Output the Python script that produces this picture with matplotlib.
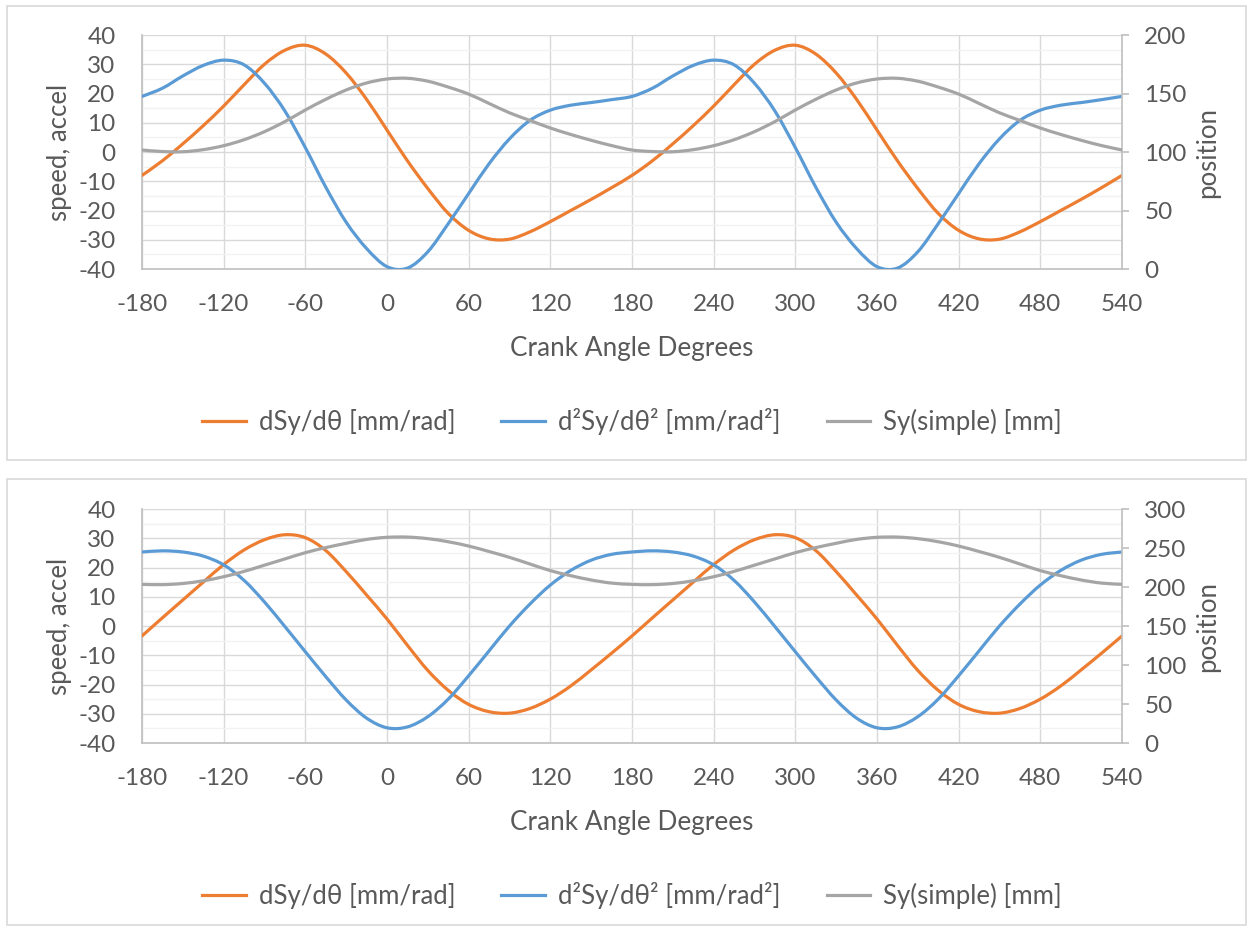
import matplotlib
matplotlib.use("Agg")
import numpy as np
import matplotlib.pyplot as plt
from matplotlib.patches import Rectangle, PathPatch
from matplotlib.path import Path
from matplotlib.lines import Line2D
from matplotlib.ticker import MultipleLocator

plt.rcParams['font.family'] = ['Lato', 'DejaVu Sans']
plt.rcParams['axes.unicode_minus'] = False

W, H = 1249, 930

angle = [-180, -165, -150, -135, -120, -105, -90, -75, -60, -45, -30, -15,
         0, 15, 30, 45, 60, 75, 90, 105, 120, 135, 150, 165,
         180, 195, 210, 225, 240, 255, 270, 285, 300, 315, 330, 345,
         360, 375, 390, 405, 420, 435, 450, 465, 480, 495, 510, 525, 540]

# top chart
speed_1 = [-8, -3, 2.8, 9, 15.7, 23, 30, 34.8, 36.5, 33.5, 27, 18,
           7.5, -3, -12.5, -21, -26.8, -29.7, -29.8, -27.3, -23.8, -20, -16.2, -12.2,
           -8, -3, 2.8, 9, 15.7, 23, 30, 34.8, 36.5, 33.5, 27, 18,
           7.5, -3, -12.5, -21, -26.8, -29.7, -29.8, -27.3, -23.8, -20, -16.2, -12.2, -8]
accel_1 = [19, 21.8, 26, 29.6, 31.4, 29.8, 23.5, 14, 1.5, -12, -24, -33,
           -39.2, -39.7, -34.1, -24.5, -14.2, -4, 4.5, 10.8, 14.3, 16, 16.9, 17.9,
           19, 21.8, 26, 29.6, 31.4, 29.8, 23.5, 14, 1.5, -12, -24, -33,
           -39.2, -39.7, -34.1, -24.5, -14.2, -4, 4.5, 10.8, 14.3, 16, 16.9, 17.9, 19]
pos_1 = [101.7, 100.4, 100.2, 102, 105.4, 110.5, 117.4, 126, 135.9, 145, 153, 159,
         162.4, 163, 160.5, 155.5, 149.5, 141.5, 133.5, 127, 120.5, 115, 110, 105.5,
         101.7, 100.4, 100.2, 102, 105.4, 110.5, 117.4, 126, 135.9, 145, 153, 159,
         162.4, 163, 160.5, 155.5, 149.5, 141.5, 133.5, 127, 120.5, 115, 110, 105.5, 101.7]

# bottom chart
speed_2 = [-3.4, 2.8, 8.9, 15, 21, 26, 29.5, 31.2, 30.2, 25.8, 18.6, 10.6,
           2.4, -6.6, -15.2, -22, -26.8, -29.3, -29.8, -28.2, -25, -20.5, -15, -9.3,
           -3.4, 2.8, 8.9, 15, 21, 26, 29.5, 31.2, 30.2, 25.8, 18.6, 10.6,
           2.4, -6.6, -15.2, -22, -26.8, -29.3, -29.8, -28.2, -25, -20.5, -15, -9.3, -3.4]
accel_2 = [25.3, 25.7, 25.3, 23.9, 20.9, 15.6, 8.2, -0.2, -8.8, -17.3, -25.3, -31.5,
           -34.8, -34.5, -31, -25, -17, -8.5, 0, 7.5, 14, 19, 22.5, 24.5,
           25.3, 25.7, 25.3, 23.9, 20.9, 15.6, 8.2, -0.2, -8.8, -17.3, -25.3, -31.5,
           -34.8, -34.5, -31, -25, -17, -8.5, 0, 7.5, 14, 19, 22.5, 24.5, 25.3]
pos_2 = [203.4, 203, 204.5, 208, 213.2, 220, 228, 236, 244, 250.5, 256, 261,
         263.7, 264, 262, 258, 252.5, 245.5, 238, 229.5, 221, 214.5, 209, 205,
         203.4, 203, 204.5, 208, 213.2, 220, 228, 236, 244, 250.5, 256, 261,
         263.7, 264, 262, 258, 252.5, 245.5, 238, 229.5, 221, 214.5, 209, 205, 203.4]

labels = ['dSy/dθ [mm/rad]', 'd²Sy/dθ² [mm/rad²]', 'Sy(simple) [mm]']
ORANGE, BLUE, GREY = '#ED7D31', '#5B9BD5', '#A5A5A5'
TXT = '#595959'
LW = 2.3


def fx(px):
    return px / W


def fy(py):
    return 1 - py / H


def smooth_line(ax, xs, ys, color):
    # Excel style "smoothed line": Catmull-Rom segments as cubic Bezier
    p = np.column_stack([xs, ys]).astype(float)
    p = np.vstack([p[0], p, p[-1]])
    verts = [p[1]]
    codes = [Path.MOVETO]
    for i in range(1, len(p) - 2):
        c1 = p[i] + (p[i + 1] - p[i - 1]) / 6
        c2 = p[i + 1] - (p[i + 2] - p[i]) / 6
        verts += [c1, c2, p[i + 1]]
        codes += [Path.CURVE4] * 3
    ax.add_patch(PathPatch(Path(verts, codes), fill=False, edgecolor=color, lw=LW,
                           capstyle='round', joinstyle='round', zorder=3))


fig = plt.figure(figsize=(W / 100, H / 100), dpi=100)


def panel(top, bottom, box, speed, accel, pos, pos_max):
    # outer chart border
    fig.patches.append(Rectangle((fx(box[0]), fy(box[3])), fx(box[2] - box[0]), (box[3] - box[1]) / H,
                                 transform=fig.transFigure, fill=False, edgecolor='#D9D9D9', lw=1.2))
    ax = fig.add_axes([fx(142), fy(bottom), fx(1122 - 142), (bottom - top) / H])
    ax2 = ax.twinx()
    ax.set_xlim(-180, 540)
    ax.set_ylim(-40, 40)
    ax2.set_ylim(0, pos_max)
    ax.set_xticks(range(-180, 541, 60))
    ax.yaxis.set_major_locator(MultipleLocator(10))
    ax.yaxis.set_minor_locator(MultipleLocator(5))
    ax2.yaxis.set_major_locator(MultipleLocator(50))
    ax.grid(True, which='major', color='#D9D9D9', lw=1.0)
    ax.grid(True, which='minor', axis='y', color='#F2F2F2', lw=1.0)
    ax.set_axisbelow(True)
    for a in (ax, ax2):
        for s in a.spines.values():
            s.set_visible(False)
    ax.spines['left'].set_visible(True)
    ax.spines['bottom'].set_visible(True)
    ax2.spines['right'].set_visible(True)
    for s in (ax.spines['left'], ax.spines['bottom'], ax2.spines['right']):
        s.set_color('#BFBFBF')
        s.set_linewidth(1.2)
    ax.tick_params(axis='both', which='both', length=0, labelsize=17.5, labelcolor=TXT)
    ax.tick_params(axis='y', pad=19)
    ax.tick_params(axis='x', pad=18)
    ax2.tick_params(axis='y', length=5, width=1.2, color='#BFBFBF', labelsize=17.5,
                    labelcolor=TXT, pad=11)

    smooth_line(ax, angle, speed, ORANGE)
    smooth_line(ax, angle, accel, BLUE)
    smooth_line(ax2, angle, pos, GREY)
    handles = [Line2D([], [], color=c, lw=LW) for c in (ORANGE, BLUE, GREY)]

    mid = (top + bottom) / 2
    fig.text(fx(60), fy(mid), 'speed, accel', rotation=90, ha='center', va='center',
             fontsize=18.5, color=TXT)
    fig.text(fx(1208), fy(mid), 'position', rotation=90, ha='center', va='center',
             fontsize=18.5, color=TXT)
    fig.text(fx(632), fy(bottom + 79), 'Crank Angle Degrees', ha='center', va='center',
             fontsize=18.8, color=TXT)
    fig.legend(handles, labels, loc='center', bbox_to_anchor=(fx(632), fy(bottom + 152)),
               ncol=3, frameon=False, fontsize=18.5, labelcolor=TXT, handlelength=1.7,
               handletextpad=0.5, columnspacing=1.8)


panel(35, 269, (7, 6, 1246, 460), speed_1, accel_1, pos_1, 200)
panel(509, 743, (7, 479, 1246, 925), speed_2, accel_2, pos_2, 300)

fig.savefig('out.png', dpi=100)
